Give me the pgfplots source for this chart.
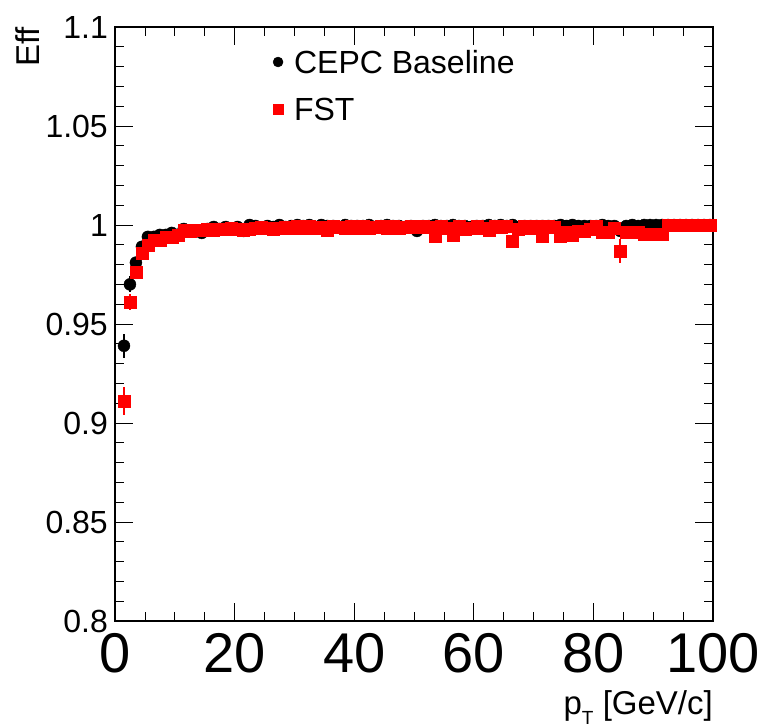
\documentclass[border=0pt]{standalone}
\usepackage{fontspec}
\setmainfont{Liberation Sans}
\usepackage{pgfplots}
\usepackage{pgfplotstable}
\pgfplotsset{compat=1.18}
\pgfplotsset{
  legmarkA/.style={legend image code/.code={\draw[##1, mark size=5pt] plot coordinates {(0pt,0pt)};}},
  legmarkB/.style={legend image code/.code={\draw[##1, mark size=5pt] plot coordinates {(0pt,0pt)};}},
}
\pgfplotstableread{
x y e
1.5 0.939 0.006
2.5 0.970 0.004
3.5 0.981 0.003
4.5 0.989 0.002
5.5 0.994 0.0015
6.5 0.994 0.0015
7.5 0.995 0.0012
8.5 0.995 0.0012
9.5 0.996 0.001
10.5 0.995 0.001
11.5 0.998 0.001
12.5 0.997 0.001
13.5 0.997 0.001
14.5 0.996 0.001
15.5 0.998 0.001
16.5 0.999 0.001
17.5 0.998 0.001
18.5 0.999 0.001
19.5 0.998 0.001
20.5 0.999 0.001
21.5 0.997 0.001
22.5 1.000 0
23.5 0.9995 0.0005
24.5 0.9985 0.001
25.5 0.9995 0.0005
26.5 0.999 0.001
27.5 1.000 0
28.5 0.999 0.001
29.5 0.9995 0.0005
30.5 1.000 0
31.5 0.9995 0.0005
32.5 1.000 0
33.5 0.999 0.001
34.5 1.000 0
35.5 0.9995 0.0005
36.5 0.9995 0.0005
37.5 0.999 0.001
38.5 1.000 0
39.5 0.9995 0.0005
40.5 0.9995 0.0005
41.5 0.9995 0.0005
42.5 1.000 0
43.5 0.999 0.001
44.5 0.9995 0.0005
45.5 1.000 0
46.5 0.9995 0.0005
47.5 0.9995 0.0005
48.5 0.999 0.001
49.5 0.9995 0.0005
50.5 0.997 0.001
51.5 0.9995 0.0005
52.5 0.9995 0.0005
53.5 1.000 0
54.5 0.9995 0.0005
55.5 0.9995 0.0005
56.5 1.000 0
57.5 0.9995 0.0005
58.5 0.9995 0.0005
59.5 0.999 0.001
60.5 0.9995 0.0005
61.5 0.9995 0.0005
62.5 1.000 0
63.5 0.9995 0.0005
64.5 1.000 0
65.5 0.9995 0.0005
66.5 1.000 0
67.5 0.999 0.001
68.5 0.9995 0.0005
69.5 0.9995 0.0005
70.5 0.9995 0.0005
71.5 0.9995 0.0005
72.5 0.9995 0.0005
73.5 0.9995 0.0005
74.5 1.000 0
75.5 0.9995 0.0005
76.5 1.000 0
77.5 0.9995 0.0005
78.5 0.9995 0.0005
79.5 0.9995 0.0005
80.5 0.9995 0.0005
81.5 1.000 0
82.5 0.9995 0.0005
83.5 0.9995 0.0005
84.5 0.997 0.002
85.5 0.9995 0.0005
86.5 1.000 0
87.5 0.9995 0.0005
88.5 1.000 0
89.5 1.000 0
90.5 1.000 0
91.5 1.000 0
92.5 1.000 0
93.5 1.000 0
94.5 1.000 0
95.5 1.000 0
96.5 1.000 0
97.5 1.000 0
98.5 1.000 0
99.5 1.000 0
}\tabbase
\pgfplotstableread{
x y e
1.5 0.911 0.007
2.5 0.961 0.004
3.5 0.976 0.003
4.5 0.986 0.002
5.5 0.990 0.0015
6.5 0.9925 0.0015
7.5 0.9925 0.0012
8.5 0.994 0.0012
9.5 0.994 0.001
10.5 0.995 0.001
11.5 0.9975 0.001
12.5 0.997 0.001
13.5 0.9975 0.001
14.5 0.9975 0.001
15.5 0.998 0.001
16.5 0.9975 0.001
17.5 0.998 0.001
18.5 0.998 0.001
19.5 0.9985 0.001
20.5 0.998 0.001
21.5 0.9975 0.001
22.5 0.998 0.001
23.5 0.9985 0.001
24.5 0.999 0.001
25.5 0.9985 0.001
26.5 0.998 0.001
27.5 0.9985 0.001
28.5 0.999 0.001
29.5 0.9985 0.001
30.5 0.9995 0.001
31.5 0.9985 0.001
32.5 0.9995 0.001
33.5 0.9985 0.001
34.5 0.999 0.001
35.5 0.9975 0.001
36.5 0.9995 0.001
37.5 0.999 0.001
38.5 0.9985 0.001
39.5 0.9995 0.001
40.5 0.9985 0.001
41.5 0.9995 0.001
42.5 0.9985 0.001
43.5 0.999 0.001
44.5 0.9995 0.001
45.5 0.9985 0.001
46.5 0.9995 0.001
47.5 0.9985 0.001
48.5 0.999 0.001
49.5 0.9995 0.001
50.5 0.999 0.001
51.5 0.9995 0.001
52.5 0.999 0.001
53.5 0.9945 0.0015
54.5 0.9995 0.001
55.5 0.9985 0.001
56.5 0.995 0.0015
57.5 0.9995 0.001
58.5 0.998 0.001
59.5 0.9985 0.001
60.5 0.9995 0.001
61.5 0.9985 0.001
62.5 0.9975 0.001
63.5 0.9995 0.001
64.5 0.999 0.001
65.5 0.9995 0.001
66.5 0.992 0.003
67.5 0.998 0.001
68.5 0.9995 0.001
69.5 0.9985 0.001
70.5 0.9995 0.001
71.5 0.9945 0.0015
72.5 0.9995 0.001
73.5 0.999 0.001
74.5 0.9945 0.0015
75.5 0.9965 0.001
76.5 0.995 0.0015
77.5 0.997 0.001
78.5 0.997 0.001
79.5 0.998 0.001
80.5 0.9995 0.001
81.5 0.9965 0.001
82.5 0.9965 0.001
83.5 0.9985 0.001
84.5 0.987 0.006
85.5 0.9965 0.001
86.5 0.9965 0.001
87.5 0.9965 0.001
88.5 0.9955 0.001
89.5 0.9955 0.001
90.5 0.9955 0.001
91.5 0.9955 0.001
92.5 1.000 0
93.5 1.000 0
94.5 1.000 0
95.5 1.000 0
96.5 1.000 0
97.5 1.000 0
98.5 1.000 0
99.5 1.000 0
}\tabfst
\begin{document}
\begin{tikzpicture}
\begin{axis}[
  at={(0pt,0pt)}, anchor=south west,
  scale only axis, width=598pt, height=594pt,
  xmin=0, xmax=100, ymin=0.8, ymax=1.1,
  xtick={0,20,40,60,80,100},
  ytick={0.8,0.85,0.9,0.95,1,1.05,1.1},
  minor x tick num=3, minor y tick num=4,
  major tick length=18pt, minor tick length=9pt,
  tick align=inside,
  axis line style={line width=1.2pt},
  every tick/.style={black, line width=0.8pt},
  /pgf/number format/assume math mode=true,
  xticklabel style={font=\fontsize{56}{56}\selectfont, inner sep=0pt, yshift=-12pt},
  yticklabel style={font=\fontsize{32}{32}\selectfont, inner sep=0pt, xshift=-7pt},
  ylabel={Eff},
  ylabel style={at={(axis description cs:-0.127,1)}, anchor=base east, font=\fontsize{33}{33}\selectfont, inner sep=0pt},
  xlabel={p\raisebox{-10pt}{\fontsize{19}{19}\selectfont T} [GeV/c]},
  xlabel style={at={(axis description cs:1,0)}, anchor=base east, yshift=-93pt, font=\fontsize{33}{33}\selectfont, inner sep=0pt},
  clip=false,
  legend cell align=left,
  legend style={at={(axis description cs:0.264,0.9015)}, anchor=west, draw=none, fill=none, inner sep=0pt,
    font=\fontsize{32}{32}\selectfont,
    nodes={inner sep=0pt, text height=23pt, text depth=0pt},
    row sep=24pt,
    /tikz/every odd column/.append style={column sep=11pt}},
]
\addplot[only marks, black, mark=*, mark size=6pt, mark options={fill=black, draw=black},
  legmarkA,
  error bars/.cd, y dir=both, y explicit, error mark=none,
  error bar style={line width=2pt, black}]
  table[x=x, y=y, y error=e] {\tabbase};
\addlegendentry{CEPC Baseline}
\addplot[only marks, red, mark=square*, mark size=6pt, mark options={fill=red, draw=red},
  legmarkB,
  error bars/.cd, y dir=both, y explicit, error mark=none,
  error bar style={line width=2pt, red}]
  table[x=x, y=y, y error=e] {\tabfst};
\addlegendentry{FST}
\end{axis}
\pgfresetboundingbox
\path (-115pt,-104pt) rectangle (645pt,621pt);
\end{tikzpicture}
\end{document}
